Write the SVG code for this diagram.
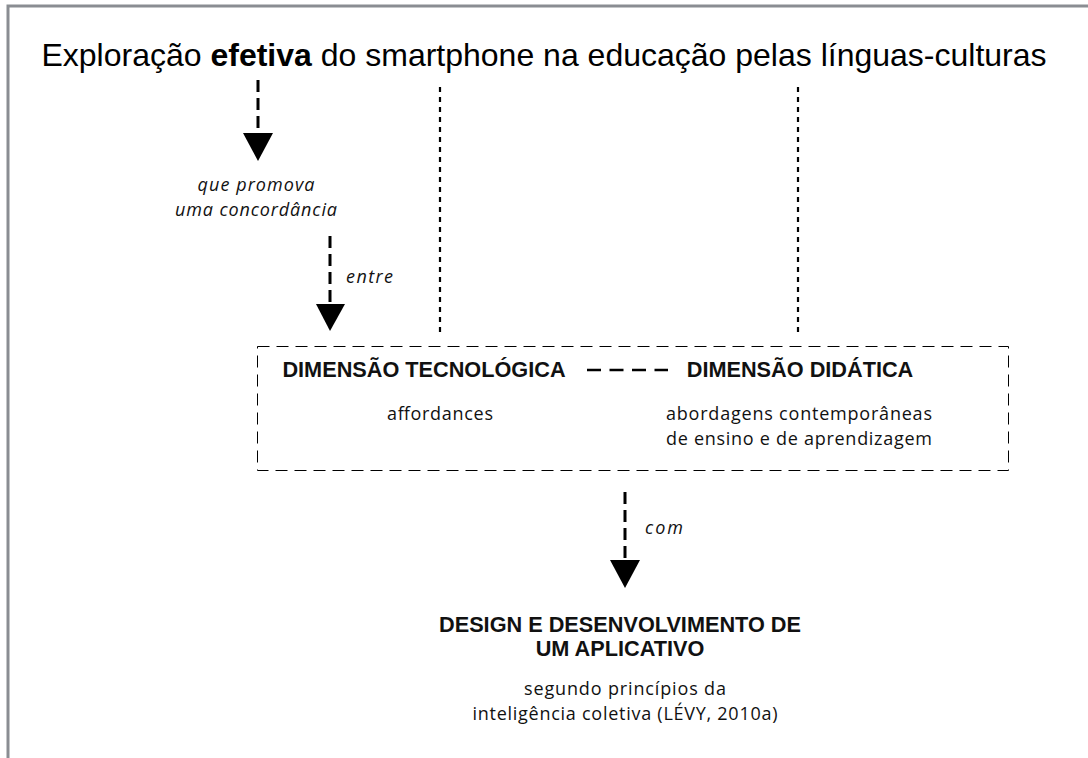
<svg xmlns="http://www.w3.org/2000/svg" width="1088" height="758" viewBox="0 0 1088 758">
<style>
.title{font-family:"Liberation Sans",Arial,sans-serif;font-size:32px;fill:#000}
.bold{font-family:"Liberation Sans",Arial,sans-serif;font-weight:bold;font-size:21.7px;fill:#111}
.hum{font-family:"Open Sans","Noto Sans",sans-serif;font-size:18px;fill:#111}
.it{font-family:"Open Sans","Noto Sans",sans-serif;font-style:italic;font-size:18px;fill:#111}
.arrow{stroke:#000;stroke-width:3;stroke-dasharray:12,6;fill:none}
.dot{stroke:#000;stroke-width:2.2;stroke-dasharray:5,5;fill:none}
.head{fill:#000}
</style>
<rect width="1088" height="758" fill="#fff"/>
<path d="M8,758 V6 H1088" fill="none" stroke="#8a8d92" stroke-width="3"/>
<g id="title">
<text class="title" x="544" y="66" text-anchor="middle">Exploração <tspan font-weight="bold">efetiva</tspan> do smartphone na educação pelas línguas-culturas</text>
</g>
<g id="connectors">
<line class="arrow" x1="258" y1="80" x2="258" y2="134"/>
<polygon class="head" points="243,133 273,133 258,161"/>
<line class="arrow" x1="330" y1="236" x2="330" y2="306"/>
<polygon class="head" points="316,304 345,304 330,331"/>
<line class="arrow" x1="625" y1="492" x2="625" y2="562"/>
<polygon class="head" points="610,560 640,560 625,588"/>
<line class="dot" x1="440" y1="87" x2="440" y2="332"/>
<line class="dot" x1="798" y1="87" x2="798" y2="332"/>
<line x1="587" y1="370" x2="668" y2="370" stroke="#000" stroke-width="2.5" stroke-dasharray="14,8.5"/>
</g>
<g id="label-promova">
<text class="it" x="256" y="191" text-anchor="middle" textLength="117" lengthAdjust="spacing">que promova</text>
<text class="it" x="256" y="216" text-anchor="middle" textLength="162" lengthAdjust="spacing">uma concordância</text>
</g>
<g id="label-entre"><text class="it" x="346" y="283" textLength="47" lengthAdjust="spacing">entre</text></g>
<g id="label-com"><text class="it" x="645" y="534" textLength="38" lengthAdjust="spacing">com</text></g>
<g id="dimensions">
<rect x="257.5" y="346.5" width="751" height="124" fill="none" stroke="#000" stroke-width="1" stroke-dasharray="12,7"/>
<text class="bold" x="424" y="377" text-anchor="middle">DIMENSÃO TECNOLÓGICA</text>
<text class="bold" x="800" y="377" text-anchor="middle">DIMENSÃO DIDÁTICA</text>
<text class="hum" x="440" y="420" text-anchor="middle" textLength="106" lengthAdjust="spacing">affordances</text>
<text class="hum" x="799" y="420" text-anchor="middle" textLength="266" lengthAdjust="spacing">abordagens contemporâneas</text>
<text class="hum" x="799" y="445" text-anchor="middle" textLength="266" lengthAdjust="spacing">de ensino e de aprendizagem</text>
</g>
<g id="design">
<text class="bold" x="620" y="632" text-anchor="middle">DESIGN E DESENVOLVIMENTO DE</text>
<text class="bold" x="620" y="656" text-anchor="middle">UM APLICATIVO</text>
<text class="hum" x="625" y="695" text-anchor="middle" textLength="202" lengthAdjust="spacing">segundo princípios da</text>
<text class="hum" x="625" y="720" text-anchor="middle" textLength="305" lengthAdjust="spacing">inteligência coletiva (LÉVY, 2010a)</text>
</g>
</svg>
